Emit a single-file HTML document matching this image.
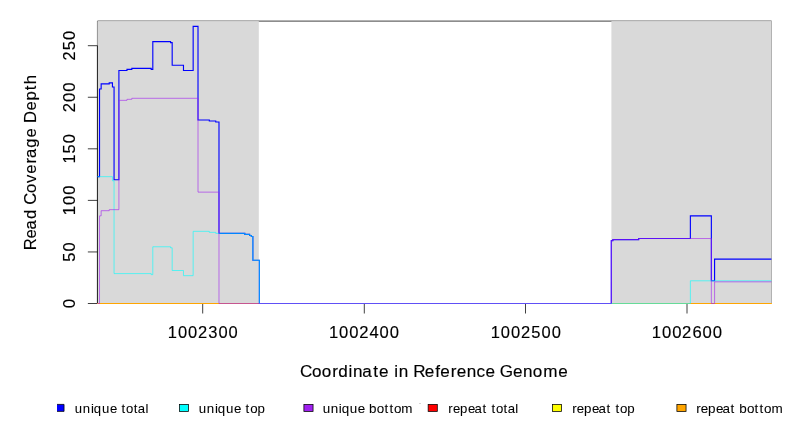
<!DOCTYPE html>
<html><head><meta charset="utf-8"><title>Coverage</title>
<style>html,body{margin:0;padding:0;background:#fff;}text{font-family:"Liberation Sans",sans-serif;font-kerning:none;stroke:#000;stroke-width:0.15px;}svg{display:block;will-change:transform;filter:grayscale(0);}</style></head>
<body>
<svg width="792" height="432" viewBox="0 0 792 432" font-family="Liberation Sans, sans-serif" fill="#000">
<rect width="792" height="432" fill="#fff"/>
<path d="M97.45,303.5 V21.1 H771.4" fill="none" stroke="#000" stroke-width="0.75"/>
<rect x="97.45" y="21.1" width="161.35" height="282.4" fill="#d9d9d9"/>
<rect x="611.4" y="21.1" width="159.6" height="282.4" fill="#d9d9d9"/>
<path d="M771.5,20.7 V303.5" fill="none" stroke="#b2b2b2" stroke-width="1"/>
<path d="M97.45,303.5 V45.70" fill="none" stroke="#000" stroke-width="0.75"/>
<path d="M97.45,303.50 H87.85" fill="none" stroke="#000" stroke-width="0.75"/>
<path d="M97.45,251.94 H87.85" fill="none" stroke="#000" stroke-width="0.75"/>
<path d="M97.45,200.38 H87.85" fill="none" stroke="#000" stroke-width="0.75"/>
<path d="M97.45,148.82 H87.85" fill="none" stroke="#000" stroke-width="0.75"/>
<path d="M97.45,97.26 H87.85" fill="none" stroke="#000" stroke-width="0.75"/>
<path d="M97.45,45.70 H87.85" fill="none" stroke="#000" stroke-width="0.75"/>
<path d="M202.7,303.5 H687" fill="none" stroke="#000" stroke-width="0.75"/>
<path d="M202.7,303.5 V313.5" fill="none" stroke="#000" stroke-width="0.75"/>
<path d="M364.3,303.5 V313.5" fill="none" stroke="#000" stroke-width="0.75"/>
<path d="M525.5,303.5 V313.5" fill="none" stroke="#000" stroke-width="0.75"/>
<path d="M687.0,303.5 V313.5" fill="none" stroke="#000" stroke-width="0.75"/>
<path d="M97.45,303.5 H771.5" fill="none" stroke="#ff0000" stroke-width="1"/>
<path d="M97.45,303.5 H771.5" fill="none" stroke="#ffff00" stroke-width="1"/>
<path d="M97.45,303.5 H771.5" fill="none" stroke="#ffa500" stroke-width="1"/>
<path d="M97.45,176.66 H99.53 V89.01 H101.15 V83.85 H109.22 V82.82 H112.45 V86.95 H114.06 V179.76 H118.91 V70.45 H126.98 V69.42 H131.82 V68.39 H151.19 V69.42 H152.81 V41.58 H170.56 V42.61 H172.18 V65.29 H183.48 V70.45 H193.16 V26.37 H198.01 V119.95 H209.31 V120.98 H215.76 V122.01 H218.99 V233.38 H244.82 V234.41 H249.66 V235.44 H251.28 V236.47 H252.89 V260.19 H259.35 V303.5 H611.27 V240.6 H612.88 V239.57 H638.71 V238.53 H690.37 V215.85 H711.35 V280.81 H714.58 V259.16 H771.4" fill="none" stroke="#0000ff" stroke-width="1.125" stroke-linejoin="miter"/>
<path d="M97.45,176.66 H112.45 V180.79 H114.06 V273.6 H151.19 V274.63 H152.81 V246.78 H170.56 V247.82 H172.18 V270.5 H183.48 V275.66 H193.16 V231.32 H209.31 V232.35 H215.76 V233.38 H244.82 V234.41 H249.66 V235.44 H251.28 V236.47 H252.89 V260.19 H259.35 V303.5 H690.37 V280.81 H771.4" fill="none" stroke="#00ffff" stroke-opacity="0.8" stroke-width="0.75"/>
<path d="M97.45,303.5 H99.53 V215.85 H101.15 V210.69 H109.22 V209.66 H118.91 V100.35 H126.98 V99.32 H131.82 V98.29 H198.01 V192.13 H218.99 V303.5 H611.27 V240.6 H612.88 V239.57 H638.71 V238.53 H711.35 V303.5 H714.58 V281.84 H771.4" fill="none" stroke="#a020f0" stroke-opacity="0.8" stroke-width="0.75"/>
<text transform="translate(75.0,0) rotate(-90) scale(0.9921,1)" x="-310.64" y="0" font-size="17.0">0</text>
<text transform="translate(75.0,0) rotate(-90) scale(0.9643,1)" x="-271.33 -260.71" y="0" font-size="17.0">50</text>
<text transform="translate(75.0,0) rotate(-90) scale(0.9783,1)" x="-220.05 -209.56 -199.15" y="0" font-size="17.0">100</text>
<text transform="translate(75.0,0) rotate(-90) scale(0.9591,1)" x="-170.59 -159.96 -149.28" y="0" font-size="17.0">150</text>
<text transform="translate(75.0,0) rotate(-90) scale(0.9806,1)" x="-114.52 -103.92 -93.54" y="0" font-size="17.0">200</text>
<text transform="translate(75.0,0) rotate(-90) scale(0.9617,1)" x="-63.05 -52.31 -41.66" y="0" font-size="17.0">250</text>
<text transform="translate(36.1,0) rotate(-90) scale(0.9906,1)" x="-252.57 -240.89 -231.68 -221.16 -211.82 -206.76 -194.76 -184.63 -175.39 -165.00 -159.58 -149.06 -138.90 -129.56 -124.09 -111.58 -101.48 -91.05 -85.11" y="0" font-size="16.8">Read Coverage Depth</text>
<text transform="translate(0,337.8) scale(0.9708,1)" x="172.79 183.31 193.75 203.96 214.64 225.05 235.48" y="0" font-size="17.0">1002300</text>
<text transform="translate(0,337.8) scale(0.9765,1)" x="336.81 347.27 357.64 367.80 378.38 388.76 399.13" y="0" font-size="17.0">1002400</text>
<text transform="translate(0,337.8) scale(0.9712,1)" x="505.18 515.72 526.18 536.43 547.04 557.56 568.02" y="0" font-size="17.0">1002500</text>
<text transform="translate(0,337.8) scale(0.9813,1)" x="664.22 674.63 684.96 695.06 705.60 715.92 726.25" y="0" font-size="17.0">1002600</text>
<text transform="translate(0,377.0) scale(1.0187,1)" x="294.51 306.29 315.91 326.11 332.07 342.15 346.53 355.69 366.49 372.14 381.48 386.93 391.32 400.66 405.57 417.05 427.15 432.25 442.45 448.38 458.20 467.75 476.65 485.99 490.68 503.49 513.31 523.07 533.24 548.05" y="0" font-size="16.8">Coordinate in Reference Genome</text>
<rect x="57" y="404.4" width="7.05" height="7.0" fill="#0000ff"/>
<path d="M57,404.4 H64.05 V411.4 H57" fill="none" stroke="#000" stroke-width="0.75"/>
<rect x="179.40" y="404.4" width="9.15" height="7.0" fill="#00ffff" stroke="#000" stroke-width="0.75"/>
<rect x="303.90" y="404.4" width="9.15" height="7.0" fill="#a020f0" stroke="#000" stroke-width="0.75"/>
<rect x="428.15" y="404.4" width="9.15" height="7.0" fill="#ff0000" stroke="#000" stroke-width="0.75"/>
<rect x="552.40" y="404.4" width="9.15" height="7.0" fill="#ffff00" stroke="#000" stroke-width="0.75"/>
<rect x="676.90" y="404.4" width="9.15" height="7.0" fill="#ffa500" stroke="#000" stroke-width="0.75"/>
<text transform="translate(0,412.7) scale(1.0439,1)" x="71.59 79.38 87.13 89.93 97.71 105.39 112.40 116.43 120.83 128.04 132.00 139.37" y="0" font-size="12.6" style="stroke-width:0.05px">unique total</text>
<text transform="translate(0,412.7) scale(1.0556,1)" x="188.22 195.93 203.63 206.38 214.08 221.68 228.69 232.63 236.97 243.87" y="0" font-size="12.6" style="stroke-width:0.05px">unique top</text>
<text transform="translate(0,412.7) scale(1.0649,1)" x="302.98 310.58 318.21 320.89 328.48 335.98 342.99 346.52 353.88 360.97 365.69 369.94 376.88" y="0" font-size="12.6" style="stroke-width:0.05px">unique bottom</text>
<text transform="translate(0,412.7) scale(1.0467,1)" x="428.29 432.68 439.56 447.09 453.33 460.95 464.45 469.60 473.95 481.12 485.03 492.38" y="0" font-size="12.6" style="stroke-width:0.05px">repeat total</text>
<text transform="translate(0,412.7) scale(1.0576,1)" x="541.13 545.46 552.27 559.72 565.89 573.45 576.95 582.01 586.30 593.15" y="0" font-size="12.6" style="stroke-width:0.05px">repeat top</text>
<text transform="translate(0,412.7) scale(1.0694,1)" x="651.09 655.36 662.09 669.46 675.56 683.05 686.56 691.22 698.55 705.61 710.31 714.53 721.43" y="0" font-size="12.6" style="stroke-width:0.05px">repeat bottom</text>
<rect x="419" y="403" width="2" height="1" fill="#d6d6d6"/>
</svg>
</body></html>
